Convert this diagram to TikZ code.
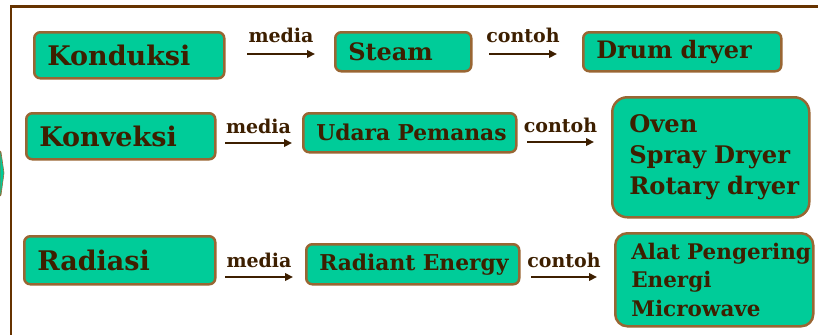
\documentclass[tikz,border=0pt]{standalone}
\usepackage{fontspec}
\setmainfont{DejaVu Serif}
\usetikzlibrary{arrows.meta}
\definecolor{boxgreen}{RGB}{0,204,153}
\definecolor{boxedge}{RGB}{153,102,51}
\definecolor{inkbrown}{RGB}{61,31,0}
\definecolor{framebrown}{RGB}{102,51,0}

\begin{document}
\begin{tikzpicture}[x=1pt, y=-1pt,
        box/.style={
            rectangle, rounded corners=6pt, draw=boxedge, line width=2.5pt,
            fill=boxgreen, text=inkbrown, align=left, anchor=north west,
            inner xsep=13pt, inner ysep=0pt
        },
        big/.style={font=\fontsize{27}{30}\selectfont\bfseries},
        mid/.style={font=\fontsize{24}{27}\selectfont\bfseries},
        small/.style={font=\fontsize{21.8}{24}\selectfont\bfseries},
        rel/.style={-{Triangle[length=8pt,width=7.5pt]}, line width=2.8pt, draw=inkbrown},
        lbl/.style={above=8pt, inner sep=0pt, text=inkbrown,
            font=\fontsize{19}{21}\selectfont\bfseries}
    ]
    \useasboundingbox (0,0) rectangle (818,335);

    % frame
    \draw[framebrown, line width=2.5pt] (10,6.5) -- (818,6.5);
    \draw[framebrown, line width=2.5pt] (11,6.5) -- (11,335);
    \fill[boxgreen, draw=boxedge, line width=0.6pt] (0,151) -- (1,152) -- (4,173) -- (1,195) -- (0,196) -- cycle;

    % konduksi
    \node[box, big, text width=164pt, minimum height=46pt] (kond) at (33,31) {Konduksi};
    \node[box, mid, text width=110pt, minimum height=39pt] (steam) at (334,31) {Steam};
    \node[box, mid, text width=172pt, minimum height=39pt] (drum) at (582,31) {\mbox{Drum dryer}};

    % konveksi
    \node[box, big, text width=163pt, minimum height=46pt] (konv) at (25,112) {Konveksi};
    \node[box, small, text width=187pt, minimum height=39pt] (udara) at (302,112) {\mbox{Udara Pemanas}};
    \node[box, rounded corners=15pt, inner xsep=17pt, text width=163pt, minimum height=120pt,
        font=\fontsize{24.2}{31}\selectfont\bfseries] (oven) at (611,96)
        {Oven\\\mbox{Spray Dryer}\\\mbox{Rotary dryer}};

    % radiasi
    \node[box, big, text width=165pt, minimum height=48pt] (rad) at (23,235) {Radiasi};
    \node[box, small, text width=187pt, minimum height=40pt] (radiant) at (305,243) {\mbox{Radiant Energy}};
    \node[box, rounded corners=12pt, inner xsep=16pt, text width=166pt, minimum height=93pt,
        font=\fontsize{21.5}{28.5}\selectfont\bfseries] (alat) at (614,232)
        {\mbox{Alat Pengering}\\Energi\\Microwave};

    \coordinate (m1a) at (247,54);  \coordinate (m1b) at (315,54);
    \coordinate (c1a) at (489,54);  \coordinate (c1b) at (557,54);
    \coordinate (m2a) at (225,143); \coordinate (m2b) at (292,143);
    \coordinate (c2a) at (527,142); \coordinate (c2b) at (594,142);
    \coordinate (m3a) at (225,277); \coordinate (m3b) at (293,277);
    \coordinate (c3a) at (531,277); \coordinate (c3b) at (597,277);

    \draw[rel] (m1a) -- node[lbl, yshift=2pt]{media} (m1b);
    \draw[rel] (c1a) -- node[lbl, yshift=2pt]{contoh} (c1b);
    \draw[rel] (m2a) -- node[lbl]{media} (m2b);
    \draw[rel] (c2a) -- node[lbl]{contoh} (c2b);
    \draw[rel] (m3a) -- node[lbl]{media} (m3b);
    \draw[rel] (c3a) -- node[lbl]{contoh} (c3b);
\end{tikzpicture}
\end{document}
